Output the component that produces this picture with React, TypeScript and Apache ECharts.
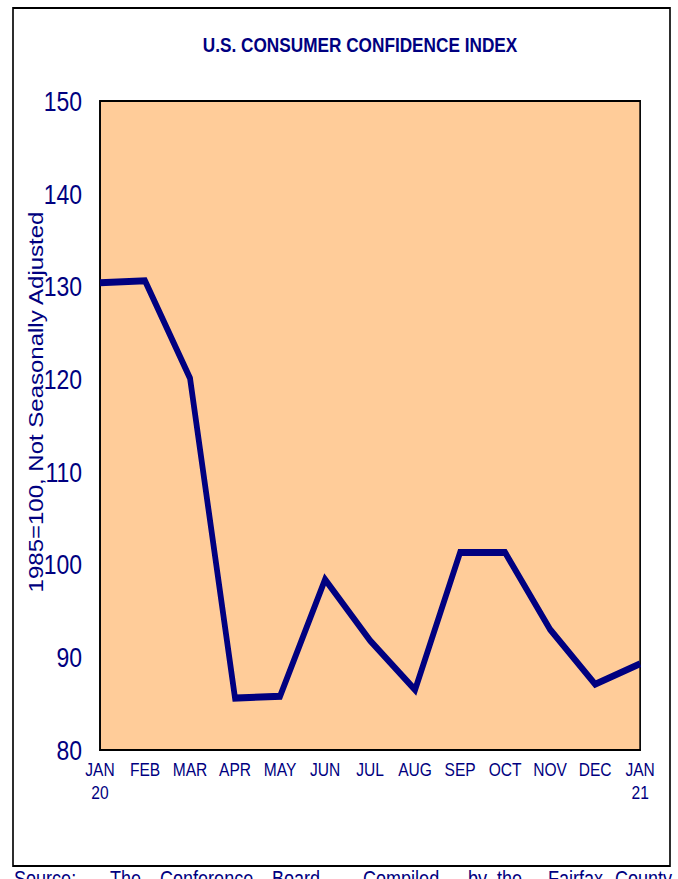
import React, { useEffect, useRef } from "react";
import * as echarts from "echarts";

const categories = ["JAN\n20", "FEB", "MAR", "APR", "MAY", "JUN", "JUL", "AUG", "SEP", "OCT", "NOV", "DEC", "JAN\n21"];
const confidence = [130.4, 130.6, 120.1, 85.6, 85.8, 98.4, 91.8, 86.5, 101.3, 101.3, 93.0, 87.1, 89.3];
const yTicks = { min: 80, max: 150, interval: 10 };
const titleText = "U.S. CONSUMER CONFIDENCE INDEX";
const yAxisName = "1985=100, Not Seasonally Adjusted";
const sourceWords = ["Source:", "The", "Conference", "Board.", "Compiled", "by", "the", "Fairfax", "County"];
const sourceWordX = [14, 110, 160, 272, 363, 468, 497, 548, 615];

const NAVY = "#000080";
const FONT = "'Liberation Sans', Arial, sans-serif";
// The reference is horizontally condensed (Arial-Narrow look); draw wider and squeeze.
const SX = 0.82;
const W = 678 / SX;
const H = 879;
const px = (x: number) => x / SX;

export default function App() {
  const ref = useRef<HTMLDivElement>(null);
  useEffect(() => {
    if (!ref.current) return;
    const chart = echarts.init(ref.current, null, { renderer: "svg" });
    chart.setOption({
      animation: false,
      backgroundColor: "#ffffff",
      grid: {
        left: px(100),
        right: px(38),
        top: 101,
        bottom: 129,
        show: true,
        backgroundColor: "#FFCC99",
        borderColor: "#000000",
        borderWidth: 2,
        containLabel: false,
      },
      xAxis: {
        type: "category",
        data: categories,
        boundaryGap: false,
        axisLine: { show: true, lineStyle: { color: "#000000", width: 2 } },
        axisTick: { show: false },
        splitLine: { show: false },
        axisLabel: {
          interval: 0,
          color: NAVY,
          fontFamily: FONT,
          fontSize: 19,
          lineHeight: 23,
          margin: 8,
        },
      },
      yAxis: {
        type: "value",
        min: yTicks.min,
        max: yTicks.max,
        interval: yTicks.interval,
        axisLine: { show: true, lineStyle: { color: "#000000", width: 2 } },
        axisTick: { show: false },
        splitLine: { show: false },
        axisLabel: {
          color: NAVY,
          fontFamily: FONT,
          fontSize: 28,
          margin: px(18),
        },
      },
      series: [
        {
          type: "line",
          data: confidence,
          symbol: "none",
          lineStyle: { color: NAVY, width: 7, join: "miter" },
          z: 3,
        },
      ],
      graphic: [
        {
          type: "rect",
          shape: { x: px(13), y: 8, width: px(657), height: 858 },
          style: { fill: "none", stroke: "#000000", lineWidth: 2 },
          silent: true,
          z: 0,
        },
        {
          type: "text",
          x: px(360),
          y: 45,
          style: {
            text: titleText,
            fill: NAVY,
            font: `bold 21px ${FONT}`,
            textAlign: "center",
            textVerticalAlign: "middle",
          },
        },
        {
          type: "text",
          x: px(36),
          y: 402,
          rotation: Math.PI / 2,
          style: {
            text: yAxisName,
            fill: NAVY,
            font: `24px ${FONT}`,
            textAlign: "center",
            textVerticalAlign: "middle",
          },
        },
        ...sourceWords.map((w, i) => ({
          type: "text",
          x: px(sourceWordX[i]),
          y: 867,
          style: {
            text: w,
            fill: NAVY,
            font: `22px ${FONT}`,
            textAlign: "left",
            textVerticalAlign: "top",
          },
        })),
      ],
    });
    return () => chart.dispose();
  }, []);
  return (
    <div style={{ position: "absolute", left: 0, top: 0, width: 678, height: H, overflow: "hidden" }}>
      <div
        ref={ref}
        style={{ width: W, height: H, transform: `scaleX(${SX})`, transformOrigin: "0 0" }}
      />
    </div>
  );
}
